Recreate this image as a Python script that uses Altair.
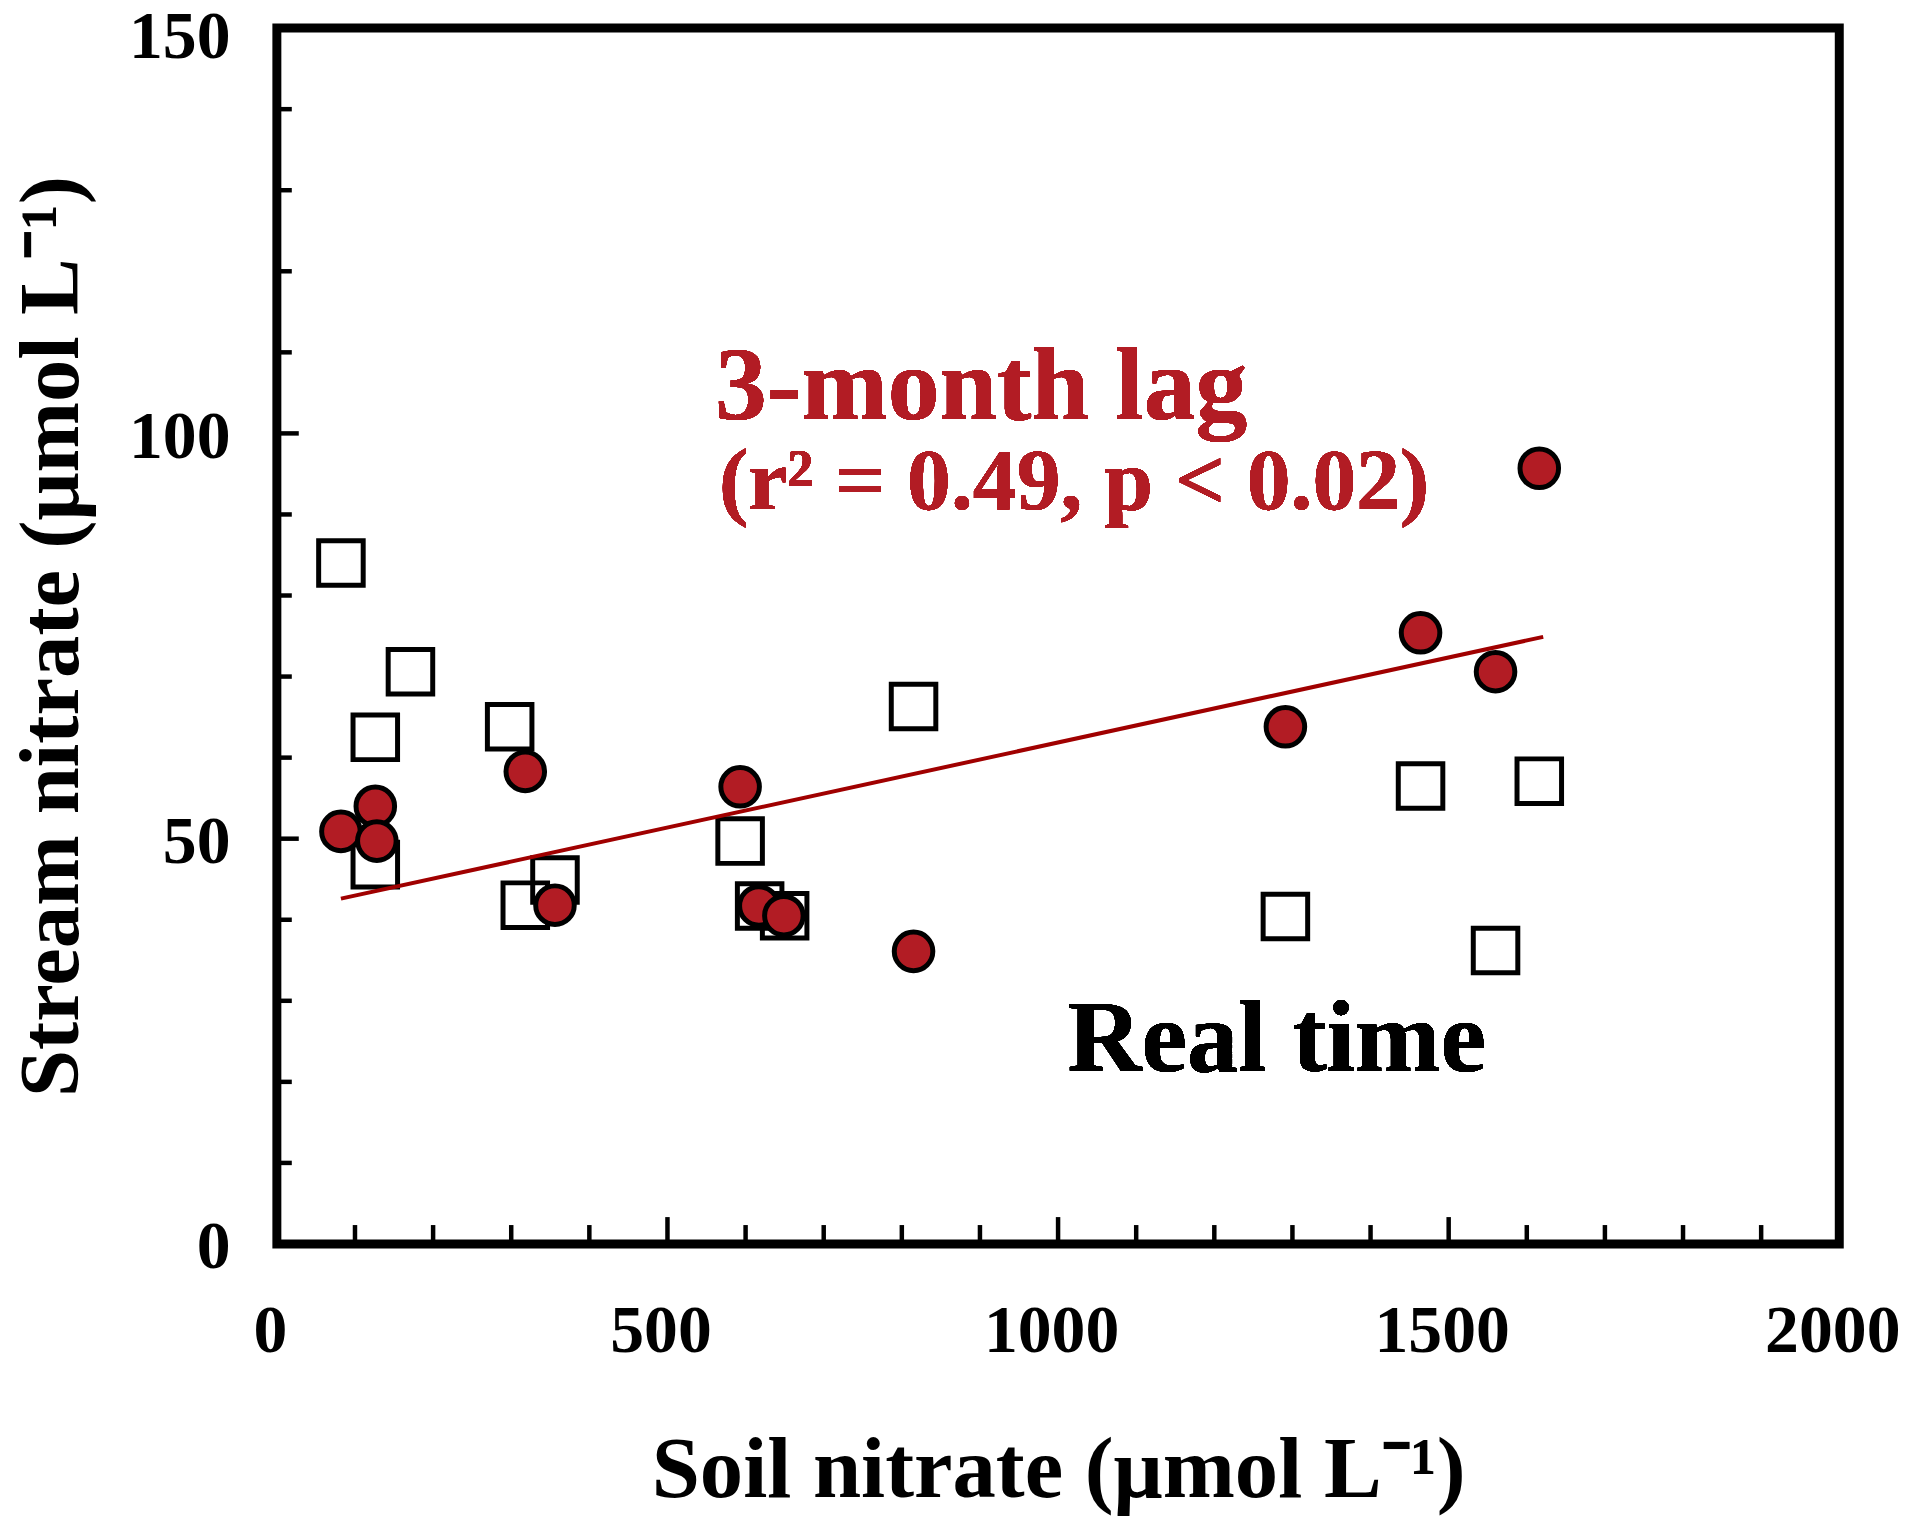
import pandas as pd
import altair as alt

# soil nitrate (x) vs stream nitrate (y), umol per litre
real_soil = [82, 126, 126, 171, 298, 318, 356, 593, 618, 650, 815, 1291, 1464, 1560, 1616]
real_stream = [84.0, 62.5, 46.8, 70.6, 63.8, 41.8, 44.9, 49.7, 41.7, 40.5, 66.3, 40.4, 56.5, 36.2, 57.1]

lag_soil = [82, 126, 128, 318, 356, 593, 617, 649, 815, 1291, 1464, 1560, 1616]
lag_stream = [50.9, 54.0, 49.7, 58.3, 41.8, 56.4, 41.7, 40.5, 36.1, 63.8, 75.4, 70.6, 95.7]

# regression line for the 3-month lag
fit_soil = [82, 1621]
fit_stream = [42.6, 74.9]

# axis labels and inner tick marks
x_labels = [0, 500, 1000, 1500, 2000]
y_labels = [0, 50, 100, 150]
x_major = [500, 1000, 1500]
x_minor = [100, 200, 300, 400, 600, 700, 800, 900, 1100, 1200, 1300, 1400,
           1600, 1700, 1800, 1900]
y_major = [50, 100]
y_minor = [10, 20, 30, 40, 60, 70, 80, 90, 110, 120, 130, 140]

FONT = "Liberation Serif, Times New Roman, serif"
RED = "#B21C24"
W, H = 1569, 1221

real = pd.DataFrame({"soil": real_soil, "stream": real_stream})
lag = pd.DataFrame({"soil": lag_soil, "stream": lag_stream})
fit = pd.DataFrame({"soil": fit_soil, "stream": fit_stream})

sx = alt.Scale(domain=[0, 2000], nice=False, zero=False)
sy = alt.Scale(domain=[0, 150], nice=False, zero=False)

x_axis = alt.Axis(
    values=x_labels, format="d", title="Soil nitrate (μmol L⁻¹)",
    labelFontSize=68, labelPadding=108, labelBaseline="alphabetic",
    labelFlush=False, labelOffset=-7,
    titleFontSize=87, titleY=254, titleBaseline="alphabetic")
# top label sits a bit lower so it stays inside the page
y_axis = alt.Axis(
    values=y_labels, format="d", title="Stream nitrate (μmol L⁻¹)",
    labelFontSize=68, labelPadding=47, labelBaseline="middle",
    labelFlush=False,
    labelOffset={"condition": {"test": "datum.value == 150", "value": 10},
                 "value": 4},
    titleFontSize=85, titleX=-200, titleAngle=270,
    titleBaseline="alphabetic")

x_enc = alt.X("soil:Q", scale=sx, axis=x_axis)
y_enc = alt.Y("stream:Q", scale=sy, axis=y_axis)

squares = alt.Chart(real).mark_point(
    shape="square", filled=False, stroke="black", strokeWidth=5,
    size=2000, opacity=1).encode(x=x_enc, y=y_enc)

circles = alt.Chart(lag).mark_point(
    shape="circle", filled=True, fill=RED, stroke="black", strokeWidth=5,
    size=1500, opacity=1).encode(x=x_enc, y=y_enc)

line = alt.Chart(fit).mark_line(color="#A00000", strokeWidth=4).encode(
    x=x_enc, y=y_enc)


def x_ticks(vals, length):
    df = pd.DataFrame({"soil": vals})
    return alt.Chart(df).mark_rule(color="black", strokeWidth=4.5).encode(
        x=x_enc, y=alt.value(H), y2=alt.value(H - length))


def y_ticks(vals, length):
    df = pd.DataFrame({"stream": vals})
    return alt.Chart(df).mark_rule(color="black", strokeWidth=4.5).encode(
        y=y_enc, x=alt.value(0), x2=alt.value(length))


def note(text, x, y, size, color):
    return alt.Chart(real).mark_text(
        text=text, align="left", baseline="alphabetic", font=FONT,
        fontWeight="bold", fontSize=size, color=color).encode(
            x=alt.XDatum(x, scale=sx, axis=x_axis),
            y=alt.YDatum(y, scale=sy, axis=y_axis))


chart = alt.layer(
    squares, circles, line,
    x_ticks(x_minor, 19), x_ticks(x_major, 27),
    y_ticks(y_minor, 15), y_ticks(y_major, 22),
    note("3-month lag", 561, 101.8, 104, RED),
    note("(r² = 0.49, p < 0.02)", 566, 90.7, 88, RED),
    note("Real time", 1012, 21.3, 103, "black"),
).properties(
    width=W, height=H,
    autosize=alt.AutoSizeParams(type="none"),
    padding={"left": 270, "top": 17, "right": 65, "bottom": 274},
).configure_view(
    stroke="black", strokeWidth=9
).configure_axis(
    labelFont=FONT, titleFont=FONT, labelFontWeight="bold",
    titleFontWeight="bold", labelColor="black", titleColor="black",
    domain=False, ticks=False, tickSize=0, grid=False, labelOverlap=False
)

chart.save("out.html", embed_options={"renderer": "svg", "actions": False})
